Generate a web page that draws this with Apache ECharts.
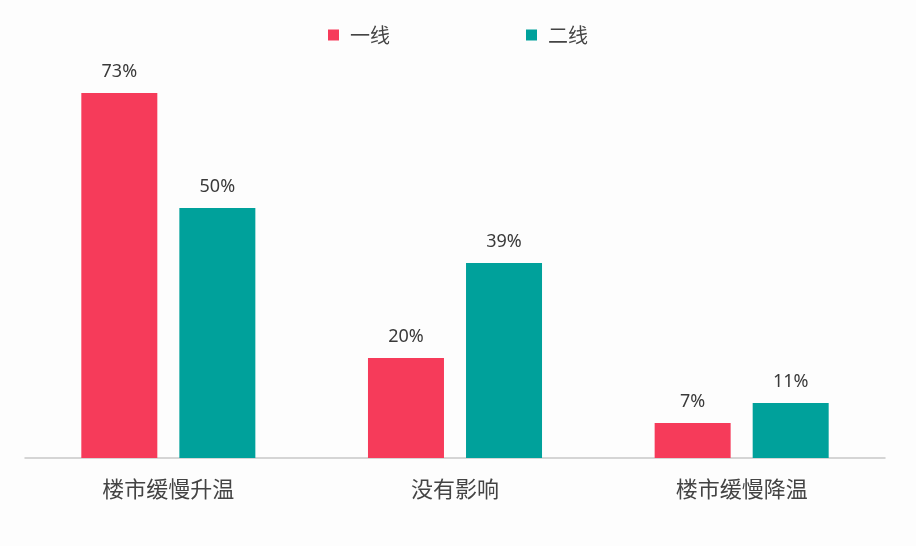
<!DOCTYPE html>
<html>
<head>
<meta charset="utf-8">
<script src="https://cdn.jsdelivr.net/npm/echarts@6/dist/echarts.min.js"></script>
<style>
html, body { margin: 0; padding: 0; background: #fdfdfd; }
#chart { width: 916px; height: 546px; }
</style>
</head>
<body>
<div id="chart"></div>
<script>
var categories = ['楼市缓慢升温', '没有影响', '楼市缓慢降温'];
var seriesNames = ['一线', '二线'];
var tier1Values = [73, 20, 7];
var tier2Values = [50, 39, 11];

var chart = echarts.init(document.getElementById('chart'));
var labelStyle = {
	show: true,
	position: 'top',
	distance: 12,
	formatter: '{c}%',
	color: '#3a3a3a',
	fontSize: 18,
	fontFamily: 'Noto Sans'
};
var option = {
	backgroundColor: '#fdfdfd',
	legend: {
		top: 20,
		left: 'center',
		itemWidth: 11,
		itemHeight: 11,
		itemGap: 136,
		icon: 'rect',
		textStyle: { color: '#444', fontSize: 20, fontFamily: 'Noto Sans CJK SC', padding: [0, 0, 0, 6] },
		data: seriesNames
	},
	grid: { left: 25, right: 31, top: 58, bottom: 88 },
	xAxis: {
		type: 'category',
		data: categories,
		axisLine: { lineStyle: { color: '#c8c8c8', width: 1.5 } },
		axisTick: { show: false },
		axisLabel: { color: '#444', fontSize: 22, margin: 20, fontFamily: 'Noto Sans CJK SC' }
	},
	yAxis: {
		type: 'value',
		min: 0,
		max: 80,
		show: false,
		splitLine: { show: false }
	},
	series: [{
		name: seriesNames[0],
		type: 'bar',
		data: tier1Values,
		barWidth: 76,
		barGap: '29%',
		itemStyle: { color: '#f63b5a' },
		label: labelStyle
	}, {
		name: seriesNames[1],
		type: 'bar',
		data: tier2Values,
		barWidth: 76,
		itemStyle: { color: '#00a19b' },
		label: labelStyle
	}]
};
chart.setOption(option);
</script>
</body>
</html>
